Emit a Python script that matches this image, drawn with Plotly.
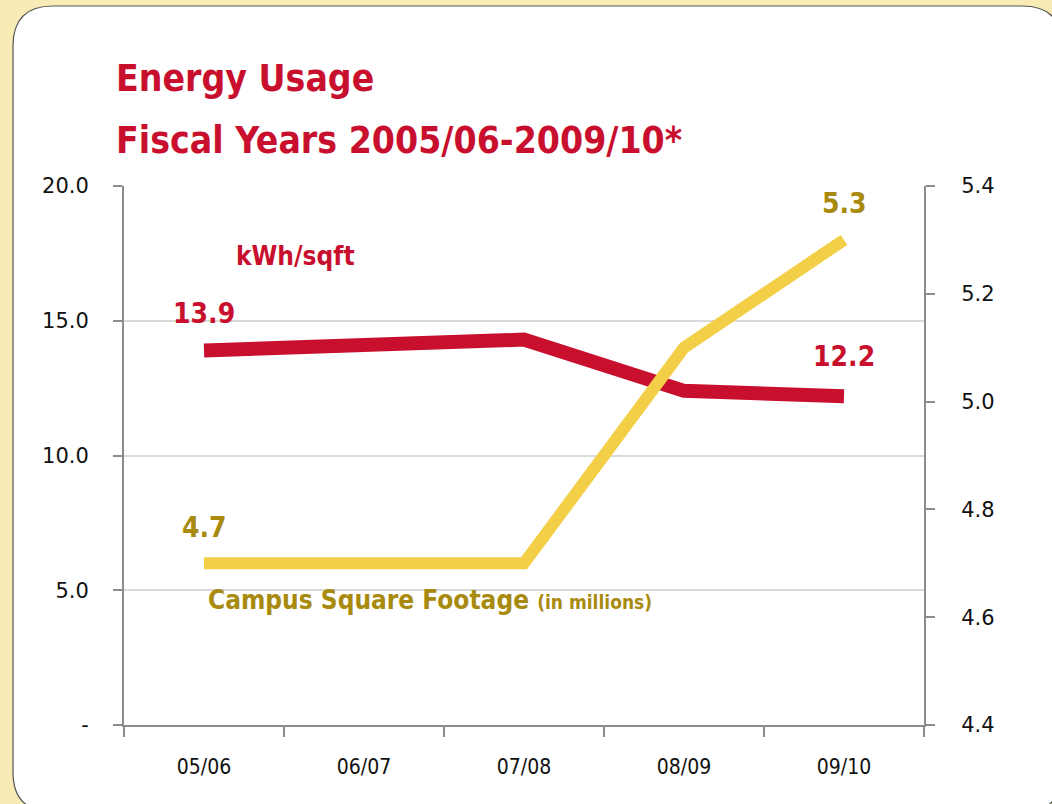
import plotly.graph_objects as go

# Data
years = ['05/06', '06/07', '07/08', '08/09', '09/10']
kwh_per_sqft = [13.9, 14.1, 14.3, 12.4, 12.2]
sqft_millions = [4.7, 4.7, 4.7, 5.1, 5.3]

left_ticks = [0, 5, 10, 15, 20]
left_ticktext = ['-', '5.0', '10.0', '15.0', '20.0']
right_ticks = [4.4, 4.6, 4.8, 5.0, 5.2, 5.4]

RED = '#C8102E'
YELLOW = '#F2CF47'
GOLD = '#A88A0E'
GRID = '#DADADA'
AXIS = '#8C8C8C'
COND = 'DejaVu Sans Condensed'

W, H = 1052, 804
ML, MR, MT, MB = 124, 128, 186, 79
PW, PH = W - ML - MR, H - MT - MB


def px(x):
    return (x - ML) / PW


def py(y):
    return (H - MB - y) / PH


fig = go.Figure()

fig.add_trace(go.Scatter(x=years, y=kwh_per_sqft, mode='lines', yaxis='y',
                         line=dict(color=RED, width=14), hoverinfo='x+y'))
fig.add_trace(go.Scatter(x=years, y=sqft_millions, mode='lines', yaxis='y2',
                         line=dict(color=YELLOW, width=12), hoverinfo='x+y'))

# white rounded panel on the pale yellow page
x0, x1, y0, y1, r = px(13), px(1062), py(6), py(812), 40 / PW
ry = 40 / PH
panel = (f"M {x0} {y0 - ry} L {x0} {y1 + ry} Q {x0} {y1} {x0 + r} {y1} "
         f"L {x1 - r} {y1} Q {x1} {y1} {x1} {y1 + ry} L {x1} {y0 - ry} "
         f"Q {x1} {y0} {x1 - r} {y0} L {x0 + r} {y0} Q {x0} {y0} {x0} {y0 - ry} Z")
fig.add_shape(type='path', path=panel, xref='paper', yref='paper', layer='below',
              fillcolor='white', line=dict(color='#555555', width=1.2))

annotations = [
    dict(text='Energy Usage', x=px(114), y=py(79), font=dict(size=37, color=RED)),
    dict(text='Fiscal Years 2005/06-2009/10*', x=px(114), y=py(140), font=dict(size=37, color=RED)),
    dict(text='kWh/sqft', x=px(234), y=py(256), font=dict(size=26, color=RED)),
    dict(text='Campus Square Footage <span style="font-size:19px">(in millions)</span>',
         x=px(206), y=py(600), font=dict(size=26, color=GOLD)),
]
for a in annotations:
    fig.add_annotation(xref='paper', yref='paper', xanchor='left', yanchor='middle',
                       showarrow=False, text='<b>' + a['text'] + '</b>',
                       x=a['x'], y=a['y'], font=dict(family=COND, **a['font']))

# value labels at first and last points
for i in (0, len(years) - 1):
    fig.add_annotation(x=years[i], y=kwh_per_sqft[i], yref='y', showarrow=False,
                       yshift=37 if i == 0 else 40, text=f'<b>{kwh_per_sqft[i]:.1f}</b>',
                       font=dict(family=COND, size=28, color=RED))
    fig.add_annotation(x=years[i], y=sqft_millions[i], yref='y2', showarrow=False,
                       yshift=36, text=f'<b>{sqft_millions[i]:.1f}</b>',
                       font=dict(family=COND, size=28, color=GOLD))

fig.update_layout(
    width=W, height=H,
    margin=dict(l=ML, r=MR, t=MT, b=MB),
    paper_bgcolor='#F9EBB5', plot_bgcolor='white',
    showlegend=False,
    font=dict(family='DejaVu Sans', color='#111111'),
    xaxis=dict(type='category', range=[-0.5, 4.5], tickson='boundaries',
               ticks='outside', ticklen=10, tickwidth=1.5, tickcolor=AXIS,
               showline=True, linecolor=AXIS, linewidth=2, showgrid=False,
               tickfont=dict(family=COND, size=21), ticklabelstandoff=22),
    yaxis=dict(range=[0, 20], tickvals=left_ticks, ticktext=left_ticktext,
               ticks='outside', ticklen=9, tickwidth=1.5, tickcolor=AXIS,
               showline=True, linecolor=AXIS, linewidth=2,
               showgrid=True, gridcolor=GRID, gridwidth=2, zeroline=False,
               tickfont=dict(size=21), ticklabelstandoff=20),
    yaxis2=dict(range=[4.4, 5.4], tickvals=right_ticks, tickformat='.1f',
                overlaying='y', side='right',
                ticks='outside', ticklen=9, tickwidth=1.5, tickcolor=AXIS,
                showline=True, linecolor=AXIS, linewidth=2, showgrid=False,
                zeroline=False, tickfont=dict(size=21), ticklabelstandoff=22),
)

# drop the page's default body margin so the figure sits at the window corner
fig.write_html('out.html', config={'displayModeBar': False},
               post_script="document.body.style.margin='0';document.body.style.overflow='hidden';")
